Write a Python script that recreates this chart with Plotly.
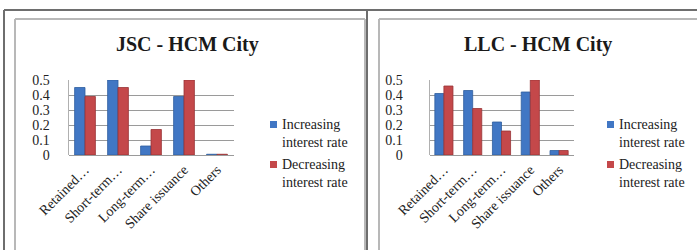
import plotly.graph_objects as go

W, H = 697, 250

categories = ["Retained…", "Short-term…", "Long-term…", "Share issuance", "Others"]
series_names = ["Increasing<br>interest rate", "Decreasing<br>interest rate"]
jsc_increasing = [0.45, 0.50, 0.06, 0.39, 0.005]
jsc_decreasing = [0.39, 0.45, 0.17, 0.50, 0.005]
llc_increasing = [0.41, 0.43, 0.22, 0.42, 0.03]
llc_decreasing = [0.46, 0.31, 0.16, 0.50, 0.03]
titles = ["JSC - HCM City", "LLC - HCM City"]
y_ticks = [0, 0.1, 0.2, 0.3, 0.4, 0.5]
colors = ["#4177C4", "#C4484A"]
edge = ["#2F5E9E", "#983436"]

def px(x):
    return x / W

def py(y):
    return 1 - y / H

fig = go.Figure()
panels = [
    dict(inc=jsc_increasing, dec=jsc_decreasing, xa="x", ya="y",
         dom=(68.5, 233.5), title_x=187, leg_x=270, standoff=15),
    dict(inc=llc_increasing, dec=llc_decreasing, xa="x2", ya="y2",
         dom=(429.5, 573.5), title_x=538, leg_x=607, standoff=23),
]

for i, p in enumerate(panels):
    for j, vals in enumerate([p["inc"], p["dec"]]):
        fig.add_trace(go.Bar(
            x=categories, y=vals, name=series_names[j],
            marker=dict(color=colors[j], line=dict(color=edge[j], width=0.8)),
            xaxis=p["xa"], yaxis=p["ya"], showlegend=False,
        ))

serif = "Liberation Serif"
axis_common_x = dict(
    tickangle=-45, tickfont=dict(family=serif, size=14, color="#222"),
    showgrid=False, showline=False, ticks="", type="category", automargin=False,
    ticklabelstandoff=3,
)
axis_common_y = dict(
    range=[0, 0.5], tickvals=y_ticks, ticktext=[str(v) for v in y_ticks],
    tickfont=dict(family=serif, size=14, color="#222"),
    showgrid=True, gridcolor="#9a9a9a", gridwidth=1,
    zeroline=True, zerolinecolor="#9a9a9a", zerolinewidth=1,
    showline=True, linecolor="#b0b0b0", linewidth=1,
    ticks="", automargin=False,
)

ydom = [py(155), py(80)]
fig.update_layout(
    xaxis=dict(domain=[px(panels[0]["dom"][0]), px(panels[0]["dom"][1])], anchor="y", **axis_common_x),
    yaxis=dict(domain=ydom, anchor="x", ticklabelstandoff=panels[0]["standoff"], **axis_common_y),
    xaxis2=dict(domain=[px(panels[1]["dom"][0]), px(panels[1]["dom"][1])], anchor="y2", **axis_common_x),
    yaxis2=dict(domain=ydom, anchor="x2", ticklabelstandoff=panels[1]["standoff"], **axis_common_y),
    barmode="group", bargap=0.37, bargroupgap=0,
    width=W, height=H, margin=dict(l=0, r=0, t=0, b=0, pad=0, autoexpand=False),
    paper_bgcolor="white", plot_bgcolor="rgba(0,0,0,0)",
    showlegend=False,
    font=dict(family=serif),
)

shapes = []
annotations = []
line_dark = dict(color="#6e6e6e", width=2)
line_light = dict(color="#b8b8b8", width=2)
shapes.append(dict(type="line", xref="paper", yref="paper", x0=px(4), x1=px(W), y0=py(10), y1=py(10), line=line_dark))
shapes.append(dict(type="line", xref="paper", yref="paper", x0=px(4), x1=px(4), y0=py(10), y1=py(H), line=line_dark))
shapes.append(dict(type="line", xref="paper", yref="paper", x0=px(367), x1=px(367), y0=py(10), y1=py(H), line=line_dark))
shapes.append(dict(type="line", xref="paper", yref="paper", x0=px(15), x1=px(365), y0=py(19), y1=py(19), line=line_light))
shapes.append(dict(type="line", xref="paper", yref="paper", x0=px(15), x1=px(15), y0=py(19), y1=py(H), line=line_light))
shapes.append(dict(type="line", xref="paper", yref="paper", x0=px(365), x1=px(365), y0=py(19), y1=py(H), line=line_light))
shapes.append(dict(type="line", xref="paper", yref="paper", x0=px(379), x1=px(W), y0=py(19), y1=py(19), line=line_light))
shapes.append(dict(type="line", xref="paper", yref="paper", x0=px(379), x1=px(379), y0=py(19), y1=py(H), line=line_light))

for i, p in enumerate(panels):
    annotations.append(dict(
        text="<b>" + titles[i] + "</b>", xref="paper", yref="paper",
        x=px(p["title_x"]), y=py(45), xanchor="center", yanchor="middle",
        showarrow=False, font=dict(family=serif, size=20, color="#1a1a1a"),
    ))
    for j in range(2):
        top = 121 + j * 40
        shapes.append(dict(type="rect", xref="paper", yref="paper",
                           x0=px(p["leg_x"]), x1=px(p["leg_x"] + 7),
                           y0=py(top), y1=py(top + 7),
                           fillcolor=colors[j], line=dict(width=0)))
        annotations.append(dict(
            text=series_names[j], xref="paper", yref="paper",
            x=px(p["leg_x"] + 10), y=py(top - 6), xanchor="left", yanchor="top",
            align="left", showarrow=False,
            font=dict(family=serif, size=14, color="#222"),
        ))

fig.update_layout(shapes=shapes, annotations=annotations)
fig.write_html(
    "out.html",
    config={"displayModeBar": False},
    post_script="document.body.style.margin='0';document.body.style.overflow='hidden';",
)
